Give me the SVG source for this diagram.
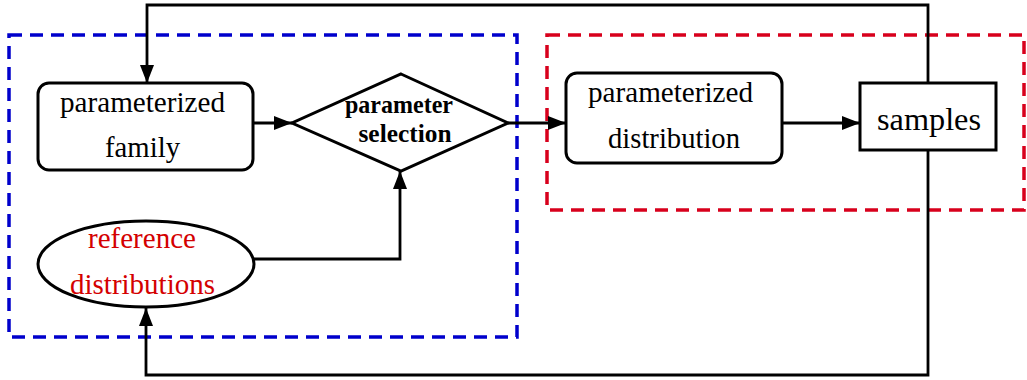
<svg xmlns="http://www.w3.org/2000/svg" width="1027" height="380" viewBox="0 0 1027 380">
<style>
.bg{fill:#ffffff}
.node{fill:#ffffff;stroke:#000;stroke-width:3}
.grp-blue{fill:none;stroke:#0000cc;stroke-width:3.5;stroke-dasharray:13 8}
.grp-red{fill:none;stroke:#d8001c;stroke-width:3.5;stroke-dasharray:13 8}
.edge{fill:none;stroke:#000;stroke-width:2.8}
.t{font-family:"Liberation Serif","Times New Roman",serif;font-size:29px;fill:#000;text-anchor:middle}
.tb{font-family:"Liberation Serif","Times New Roman",serif;font-size:26px;font-weight:bold;fill:#000;text-anchor:middle}
.tr{fill:#d40000}
</style>
<defs>
<marker id="arr" viewBox="0 0 18 14" refX="18" refY="7" markerWidth="18" markerHeight="14" markerUnits="userSpaceOnUse" orient="auto">
<path d="M0,0 L18,7 L0,14 Z" fill="#000"/>
</marker>
</defs>
<rect class="bg" x="0" y="0" width="1027" height="380"/>
<g id="groups">
<rect class="grp-blue" x="9" y="35" width="508" height="302"/>
<rect class="grp-red" x="547" y="35" width="477" height="175"/>
</g>
<g id="connectors">
<path class="edge" d="M928,83 L928,5 L147,5 L147,83" marker-end="url(#arr)"/>
<path class="edge" d="M928,150 L928,375 L146,375 L146,308" marker-end="url(#arr)"/>
<path class="edge" d="M253,123 L292,123" marker-end="url(#arr)"/>
<path class="edge" d="M253,259 L400,259 L400,171" marker-end="url(#arr)"/>
<path class="edge" d="M508,123 L566,123" marker-end="url(#arr)"/>
<path class="edge" d="M782,123 L860,123" marker-end="url(#arr)"/>
</g>
<g id="family">
<rect class="node" x="38" y="83" width="215" height="87" rx="11"/>
<text class="t" x="142.5" y="112" textLength="165" lengthAdjust="spacingAndGlyphs">parameterized</text>
<text class="t" x="142.5" y="157" textLength="75" lengthAdjust="spacingAndGlyphs">family</text>
</g>
<g id="selection">
<path class="node" d="M401,74 L508,123 L401,171 L292,123 Z"/>
<text class="tb" x="399" y="113" textLength="108" lengthAdjust="spacingAndGlyphs">parameter</text>
<text class="tb" x="405" y="142" textLength="93" lengthAdjust="spacingAndGlyphs">selection</text>
</g>
<g id="reference">
<ellipse class="node" cx="146" cy="264" rx="108" ry="43"/>
<text class="t tr" x="142" y="248" textLength="108" lengthAdjust="spacingAndGlyphs">reference</text>
<text class="t tr" x="142.5" y="294" textLength="145" lengthAdjust="spacingAndGlyphs">distributions</text>
</g>
<g id="distribution">
<rect class="node" x="566" y="73" width="216" height="90" rx="11"/>
<text class="t" x="670.5" y="102" textLength="165" lengthAdjust="spacingAndGlyphs">parameterized</text>
<text class="t" x="674" y="148" textLength="132" lengthAdjust="spacingAndGlyphs">distribution</text>
</g>
<g id="samples">
<rect class="node" x="860" y="83" width="136" height="67"/>
<text class="t" x="929" y="130" style="font-size:32px" textLength="104" lengthAdjust="spacingAndGlyphs">samples</text>
</g>
</svg>
